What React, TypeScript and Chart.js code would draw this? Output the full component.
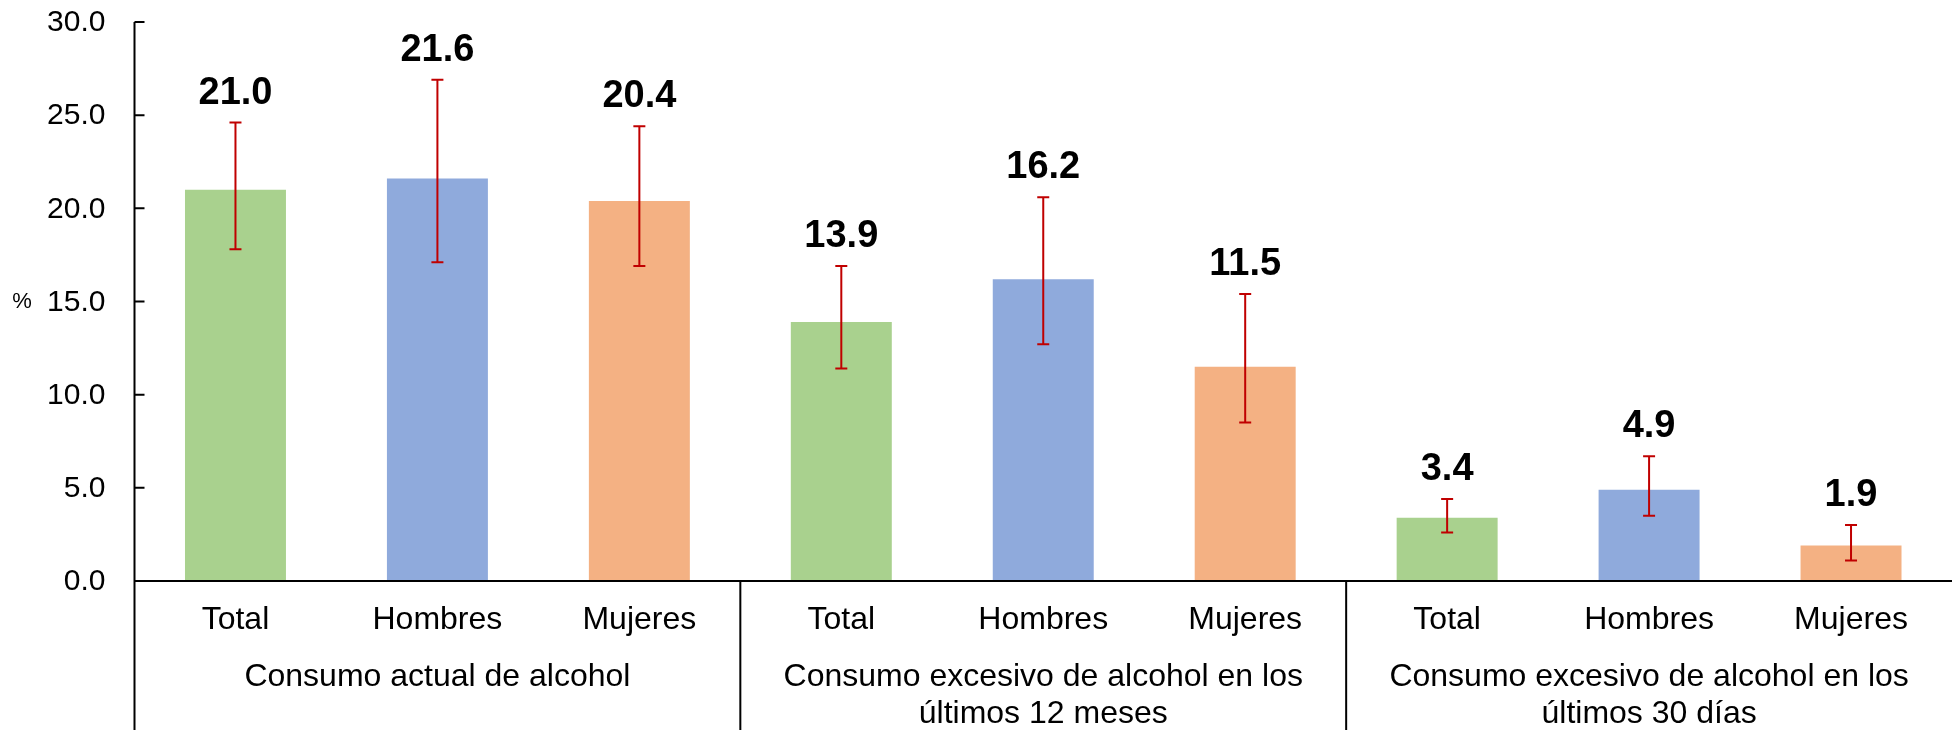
import React, { useEffect, useRef } from "react";
import { Chart, registerables } from "chart.js";

Chart.register(...registerables);

const categories = ["Total", "Hombres", "Mujeres", "Total", "Hombres", "Mujeres", "Total", "Hombres", "Mujeres"];
const groupLabels: string[][] = [
  ["Consumo actual de alcohol"],
  ["Consumo excesivo de alcohol en los", "últimos 12 meses"],
  ["Consumo excesivo de alcohol en los", "últimos 30 días"],
];
const groupSizes = [3, 3, 3];
const values = [21.0, 21.6, 20.4, 13.9, 16.2, 11.5, 3.4, 4.9, 1.9];
const errLow = [17.8, 17.1, 16.9, 11.4, 12.7, 8.5, 2.6, 3.5, 1.1];
const errHigh = [24.6, 26.9, 24.4, 16.9, 20.6, 15.4, 4.4, 6.7, 3.0];
const yTicks = [0, 5, 10, 15, 20, 25, 30];
const yTitle = "%";
const barColors = ["#A9D18E", "#8FAADC", "#F4B183", "#A9D18E", "#8FAADC", "#F4B183", "#A9D18E", "#8FAADC", "#F4B183"];

const FONT = "'Liberation Sans', Arial, sans-serif";
const BOTTOM_LINE = 730;

const overlay = {
  id: "overlay",
  afterDatasetsDraw(chart: any) {
    const ctx = chart.ctx;
    const x = chart.scales.x;
    const y = chart.scales.y;
    ctx.save();
    // error bars
    ctx.strokeStyle = "#C00000";
    ctx.lineWidth = 2;
    values.forEach((v, i) => {
      const cx = x.getPixelForValue(i);
      const yt = y.getPixelForValue(errHigh[i]);
      const yb = y.getPixelForValue(errLow[i]);
      ctx.beginPath();
      ctx.moveTo(cx, yt);
      ctx.lineTo(cx, yb);
      ctx.moveTo(cx - 6, yt);
      ctx.lineTo(cx + 6, yt);
      ctx.moveTo(cx - 6, yb);
      ctx.lineTo(cx + 6, yb);
      ctx.stroke();
    });
    // data labels
    ctx.fillStyle = "#000";
    ctx.font = `bold 38px ${FONT}`;
    ctx.textAlign = "center";
    ctx.textBaseline = "alphabetic";
    values.forEach((v, i) => {
      const cx = x.getPixelForValue(i);
      const yt = y.getPixelForValue(errHigh[i]);
      ctx.fillText(v.toFixed(1), cx, yt - 19);
    });
    ctx.restore();
  },
  afterDraw(chart: any) {
    const ctx = chart.ctx;
    const area = chart.chartArea;
    const x = chart.scales.x;
    const y = chart.scales.y;
    const catW = (area.right - area.left) / categories.length;
    ctx.save();
    ctx.strokeStyle = "#000";
    ctx.lineWidth = 2;
    ctx.beginPath();
    // y axis line
    ctx.moveTo(area.left, area.top);
    ctx.lineTo(area.left, BOTTOM_LINE);
    // x axis line
    ctx.moveTo(area.left, area.bottom);
    ctx.lineTo(area.right, area.bottom);
    // y ticks
    yTicks.forEach((t) => {
      const py = y.getPixelForValue(t);
      ctx.moveTo(area.left, py);
      ctx.lineTo(area.left + 10, py);
    });
    // group separators
    let acc = 0;
    groupSizes.forEach((n, gi) => {
      acc += n;
      if (gi < groupSizes.length - 1) {
        const sx = area.left + acc * catW;
        ctx.moveTo(sx, area.bottom);
        ctx.lineTo(sx, BOTTOM_LINE);
      }
    });
    ctx.stroke();

    ctx.fillStyle = "#000";
    // y tick labels
    ctx.font = `30px ${FONT}`;
    ctx.textAlign = "right";
    ctx.textBaseline = "middle";
    yTicks.forEach((t) => {
      ctx.fillText(t.toFixed(1), area.left - 29, y.getPixelForValue(t) + 1);
    });

    // y title
    ctx.font = `22px ${FONT}`;
    ctx.textAlign = "center";
    ctx.fillText(yTitle, 22, y.getPixelForValue(15));

    // category labels
    ctx.font = `32px ${FONT}`;
    ctx.textBaseline = "alphabetic";
    categories.forEach((c, i) => {
      ctx.fillText(c, x.getPixelForValue(i), 629);
    });
    // group labels
    let start = 0;
    groupLabels.forEach((lines, gi) => {
      const n = groupSizes[gi];
      const gx = area.left + (start + n / 2) * catW;
      lines.forEach((ln, li) => {
        ctx.fillText(ln, gx, 686 + li * 37);
      });
      start += n;
    });
    ctx.restore();
  },
};

export default function App() {
  const ref = useRef<HTMLCanvasElement | null>(null);
  useEffect(() => {
    if (!ref.current) return;
    const chart = new Chart(ref.current, {
      type: "bar",
      data: {
        labels: categories,
        datasets: [
          {
            data: values,
            backgroundColor: barColors,
            barPercentage: 0.5,
            categoryPercentage: 1,
          },
        ],
      },
      options: {
        animation: false,
        responsive: false,
        devicePixelRatio: 1,
        layout: { padding: { top: 22, bottom: 154, left: 0, right: 0 } },
        plugins: { legend: { display: false }, tooltip: { enabled: false } },
        scales: {
          x: { display: false, offset: true },
          y: {
            min: 0,
            max: 30,
            afterFit: (s: any) => {
              s.width = 134.5;
            },
            grid: { display: false, drawTicks: false },
            border: { display: false },
            ticks: { display: false, stepSize: 5 },
          },
        },
      },
      plugins: [overlay],
    });
    return () => chart.destroy();
  }, []);
  return (
    <div style={{ position: "absolute", left: 0, top: 0, width: 1952, height: 735, background: "#fff" }}>
      <canvas ref={ref} width={1952} height={735} />
    </div>
  );
}
